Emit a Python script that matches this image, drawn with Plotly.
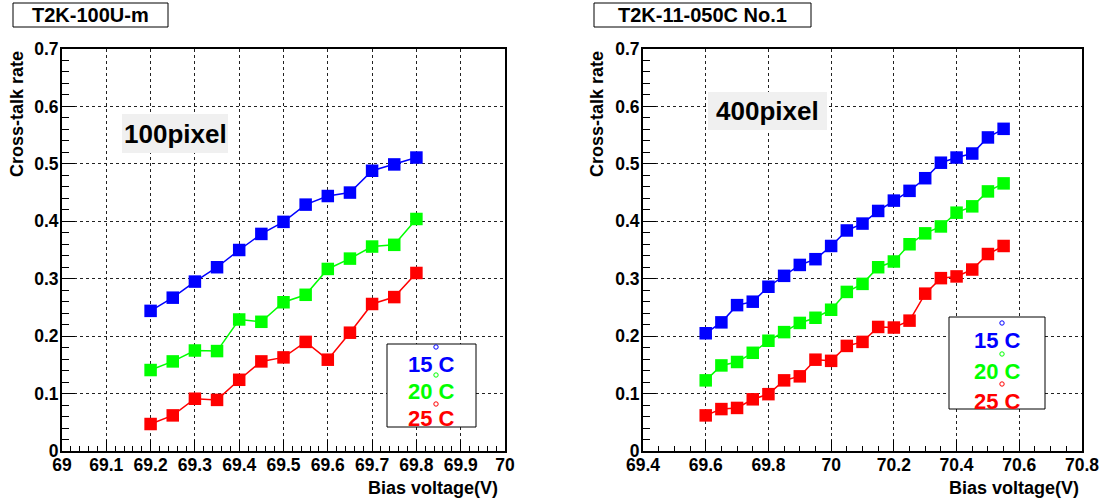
import plotly.graph_objects as go

# ---- data: cross-talk rate vs bias voltage at three temperatures ----
v_100 = [69.20, 69.25, 69.30, 69.35, 69.40, 69.45, 69.50, 69.55, 69.60, 69.65, 69.70, 69.75, 69.80]
ct_100_15C = [0.244, 0.267, 0.295, 0.320, 0.350, 0.378, 0.399, 0.429, 0.444, 0.450, 0.488, 0.499, 0.511]
ct_100_20C = [0.141, 0.156, 0.175, 0.174, 0.229, 0.225, 0.259, 0.272, 0.317, 0.335, 0.356, 0.359, 0.404]
ct_100_25C = [0.047, 0.062, 0.091, 0.089, 0.124, 0.156, 0.163, 0.190, 0.159, 0.206, 0.256, 0.268, 0.310]

v_400 = [69.60, 69.65, 69.70, 69.75, 69.80, 69.85, 69.90, 69.95, 70.00, 70.05,
         70.10, 70.15, 70.20, 70.25, 70.30, 70.35, 70.40, 70.45, 70.50, 70.55]
ct_400_15C = [0.205, 0.224, 0.254, 0.260, 0.286, 0.305, 0.324, 0.334, 0.357, 0.384,
              0.396, 0.418, 0.436, 0.453, 0.475, 0.502, 0.511, 0.518, 0.546, 0.561]
ct_400_20C = [0.123, 0.149, 0.155, 0.171, 0.192, 0.207, 0.223, 0.232, 0.246, 0.277,
              0.291, 0.320, 0.330, 0.360, 0.379, 0.391, 0.415, 0.426, 0.452, 0.466]
ct_400_25C = [0.062, 0.073, 0.075, 0.090, 0.099, 0.123, 0.130, 0.159, 0.157, 0.183,
              0.190, 0.216, 0.215, 0.227, 0.274, 0.301, 0.304, 0.316, 0.343, 0.357]

temps = ["15 C", "20 C", "25 C"]
colors = ["#0000ff", "#00ff00", "#ff0000"]
panel_titles = ["T2K-100U-m", "T2K-11-050C No.1"]
pixel_labels = ["100pixel", "400pixel"]

W, H = 1104, 502
FONT = "Liberation Sans, Arial, Helvetica, sans-serif"


def px(x):
    return x / W


def py(y):
    return 1 - y / H


fig = go.Figure()

series = [
    ("x", "y", v_100, [ct_100_15C, ct_100_20C, ct_100_25C]),
    ("x2", "y2", v_400, [ct_400_15C, ct_400_20C, ct_400_25C]),
]
for xa, ya, xs, ys_list in series:
    for ys, col, name in zip(ys_list, colors, temps):
        fig.add_trace(go.Scatter(
            x=xs, y=ys, xaxis=xa, yaxis=ya, mode="lines+markers", name=name,
            line=dict(color=col, width=1.5),
            marker=dict(symbol="square", size=12.5, color=col),
            showlegend=False,
        ))

tickfont = dict(family=FONT, size=17.5, color="black", weight="bold")


def xaxis_cfg(domain, rng, dtick, minor_dtick):
    return dict(
        domain=domain, range=rng, dtick=dtick, tick0=rng[0],
        ticks="inside", ticklen=11, tickwidth=1, tickcolor="black",
        minor=dict(dtick=minor_dtick, ticks="inside", ticklen=5, tickwidth=1, tickcolor="black"),
        showgrid=True, gridcolor="#222", griddash="dot", gridwidth=1,
        showline=True, linecolor="black", linewidth=2, mirror=True,
        zeroline=False, tickfont=tickfont, ticklabelstandoff=-3,
        fixedrange=True, automargin=False,
    )


def yaxis_cfg(anchor):
    return dict(
        domain=[py(451), py(49)], range=[0, 0.7], dtick=0.1, tick0=0, anchor=anchor,
        ticks="inside", ticklen=13, tickwidth=1, tickcolor="black",
        minor=dict(dtick=0.02, ticks="inside", ticklen=7, tickwidth=1, tickcolor="black"),
        showgrid=True, gridcolor="#222", griddash="dot", gridwidth=1,
        showline=True, linecolor="black", linewidth=2, mirror=True,
        zeroline=False, tickfont=tickfont, ticklabelstandoff=-2,
        fixedrange=True, automargin=False,
    )


fig.update_layout(
    width=W, height=H,
    margin=dict(l=0, r=0, t=0, b=0, pad=0, autoexpand=False),
    paper_bgcolor="white", plot_bgcolor="white",
    xaxis=xaxis_cfg([px(62), px(505)], [69, 70], 0.1, 0.02) | dict(anchor="y"),
    yaxis=yaxis_cfg("x"),
    xaxis2=xaxis_cfg([px(643), px(1082)], [69.4, 70.8], 0.2, 0.05) | dict(anchor="y2"),
    yaxis2=yaxis_cfg("x2"),
)

shapes = []
annotations = []

# panel geometry (pixels): title box, pixel-count label box, legend box
panels = [
    dict(title_box=(13, 3, 168, 27), label_box=(122, 114, 228, 153),
         legend_box=(387, 344, 476, 427), legend_cx=431, legend_ys=[364, 391, 418],
         circle_x=436, circle_ys=[347, 375, 404], ytitle_x=17, xtitle_right=500),
    dict(title_box=(594, 3, 811, 27), label_box=(708, 92, 827, 130),
         legend_box=(949, 317, 1045, 409), legend_cx=997, legend_ys=[340, 371, 401],
         circle_x=1002, circle_ys=[323, 354, 384], ytitle_x=597, xtitle_right=1081),
]

for p, title, label in zip(panels, panel_titles, pixel_labels):
    x0, y0, x1, y1 = p["title_box"]
    shapes.append(dict(type="rect", xref="paper", yref="paper",
                       x0=px(x0), x1=px(x1), y0=py(y1), y1=py(y0),
                       line=dict(color="black", width=1), fillcolor="white", layer="above"))
    annotations.append(dict(xref="paper", yref="paper", x=px((x0 + x1) / 2), y=py((y0 + y1) / 2),
                            text=title, showarrow=False, xanchor="center", yanchor="middle",
                            font=dict(family=FONT, size=20, color="black", weight="bold")))

    x0, y0, x1, y1 = p["label_box"]
    shapes.append(dict(type="rect", xref="paper", yref="paper",
                       x0=px(x0), x1=px(x1), y0=py(y1), y1=py(y0),
                       line=dict(width=0), fillcolor="#f0f0f0", layer="above"))
    annotations.append(dict(xref="paper", yref="paper", x=px((x0 + x1) / 2), y=py((y0 + y1) / 2),
                            text=label, showarrow=False, xanchor="center", yanchor="middle",
                            font=dict(family=FONT, size=26, color="black", weight="bold")))

    x0, y0, x1, y1 = p["legend_box"]
    shapes.append(dict(type="rect", xref="paper", yref="paper",
                       x0=px(x0), x1=px(x1), y0=py(y1), y1=py(y0),
                       line=dict(color="black", width=1), fillcolor="white", layer="above"))
    for name, col, ly, cy in zip(temps, colors, p["legend_ys"], p["circle_ys"]):
        annotations.append(dict(xref="paper", yref="paper", x=px(p["legend_cx"]), y=py(ly),
                                text=name, showarrow=False, xanchor="center", yanchor="middle",
                                font=dict(family=FONT, size=22, color=col, weight="bold")))
        r = 2.2
        shapes.append(dict(type="circle", xref="paper", yref="paper",
                           x0=px(p["circle_x"] - r), x1=px(p["circle_x"] + r),
                           y0=py(cy + r), y1=py(cy - r),
                           line=dict(color=col, width=1), layer="above"))

    annotations.append(dict(xref="paper", yref="paper", x=px(p["ytitle_x"]), y=py(114),
                            text="Cross-talk rate", showarrow=False, textangle=-90,
                            xanchor="center", yanchor="middle",
                            font=dict(family=FONT, size=18, color="black", weight="bold")))
    annotations.append(dict(xref="paper", yref="paper", x=px(p["xtitle_right"]), y=py(488),
                            text="Bias voltage(V)", showarrow=False,
                            xanchor="right", yanchor="middle",
                            font=dict(family=FONT, size=18, color="black", weight="bold")))

fig.update_layout(shapes=shapes, annotations=annotations)

fig.write_html("out.html")
